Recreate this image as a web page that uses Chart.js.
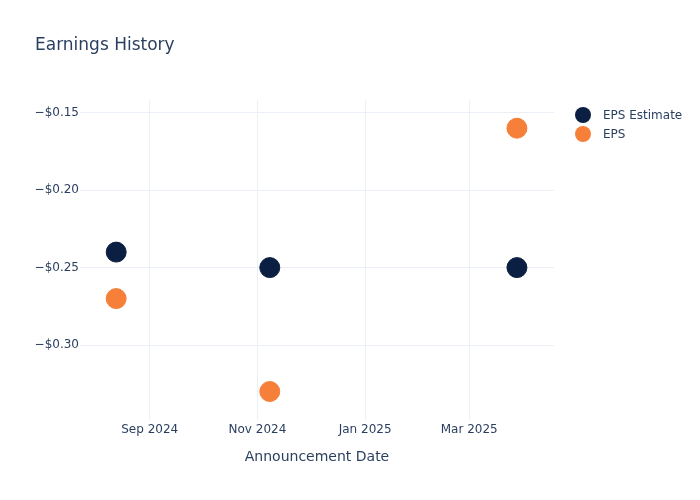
<!DOCTYPE html>
<html>
<head>
<meta charset="utf-8">
<script src="https://cdn.jsdelivr.net/npm/chart.js@4"></script>
<style>
  body { margin: 0; background: #fff; font-family: "DejaVu Sans", Verdana, sans-serif; }
  #wrap { position: relative; width: 700px; height: 500px; }
  #title { position: absolute; left: 35px; top: 34px; font-size: 17px; color: #2a3f5f; }
  #legend { position: absolute; left: 575px; top: 105px; font-size: 12px; color: #2a3f5f; }
  .item { height: 19px; display: flex; align-items: center; }
  .dot { width: 16px; height: 16px; border-radius: 50%; margin-right: 12px; }
</style>
</head>
<body>
<div id="wrap">
  <canvas id="chart" width="700" height="500"></canvas>
  <div id="title">Earnings History</div>
  <div id="legend"></div>
</div>
<script>
// Data
const dates = ["2024-08-13", "2024-11-08", "2025-03-28"];
const epsEstimate = [-0.24, -0.25, -0.25];
const epsActual = [-0.27, -0.33, -0.16];
const xTicks = ["2024-09-01", "2024-11-01", "2025-01-01", "2025-03-01"];
const yTicks = [-0.30, -0.25, -0.20, -0.15];
const monthNames = ["Jan", "Feb", "Mar", "Apr", "May", "Jun", "Jul", "Aug", "Sep", "Oct", "Nov", "Dec"];

const navy = "#0b1f42";
const orange = "#f6803a";
const ms = s => Date.parse(s + "T00:00:00Z");

const toPoints = vals => dates.map((d, i) => ({ x: ms(d), y: vals[i] }));

new Chart(document.getElementById("chart"), {
    type: "scatter",
    data: {
        datasets: [
            { label: "EPS Estimate", data: toPoints(epsEstimate), backgroundColor: navy, borderColor: navy, pointRadius: 10, pointHoverRadius: 10 },
            { label: "EPS", data: toPoints(epsActual), backgroundColor: orange, borderColor: orange, pointRadius: 10, pointHoverRadius: 10 }
        ]
    },
    options: {
        responsive: false,
        animation: false,
        layout: { padding: { left: 0, right: 146, top: 100, bottom: 30 } },
        plugins: { legend: { display: false }, tooltip: { enabled: false } },
        scales: {
            x: {
                type: "linear",
                min: ms("2024-07-23") + 12 * 3600e3,
                max: ms("2025-04-18"),
                afterBuildTicks: s => { s.ticks = xTicks.map(t => ({ value: ms(t) })); },
                afterFit: s => { s.height = 50; },
                ticks: {
                    color: "#2a3f5f",
                    font: { family: "DejaVu Sans", size: 12 },
                    padding: 3,
                    maxRotation: 0,
                    callback: v => { const d = new Date(v); return monthNames[d.getUTCMonth()] + " " + d.getUTCFullYear(); }
                },
                grid: { color: "#ebf0f8", drawTicks: false },
                border: { display: false },
                title: {
                    display: true,
                    text: "Announcement Date",
                    color: "#2a3f5f",
                    font: { family: "DejaVu Sans", size: 14 },
                    padding: { top: 12 }
                }
            },
            y: {
                min: -0.3484,
                max: -0.1418,
                afterBuildTicks: s => { s.ticks = yTicks.map(v => ({ value: v })); },
                afterFit: s => { s.width = 80; },
                ticks: {
                    color: "#2a3f5f",
                    font: { family: "DejaVu Sans", size: 12 },
                    padding: 1,
                    callback: v => "\u2212$" + Math.abs(v).toFixed(2)
                },
                grid: { color: "#ebf0f8", drawTicks: false },
                border: { display: false }
            }
        }
    }
});

// Legend
const legend = document.getElementById("legend");
[["EPS Estimate", navy], ["EPS", orange]].forEach(([name, col]) => {
    const row = document.createElement("div");
    row.className = "item";
    row.innerHTML = '<span class="dot" style="background:' + col + '"></span>' + name;
    legend.appendChild(row);
});
</script>
</body>
</html>
